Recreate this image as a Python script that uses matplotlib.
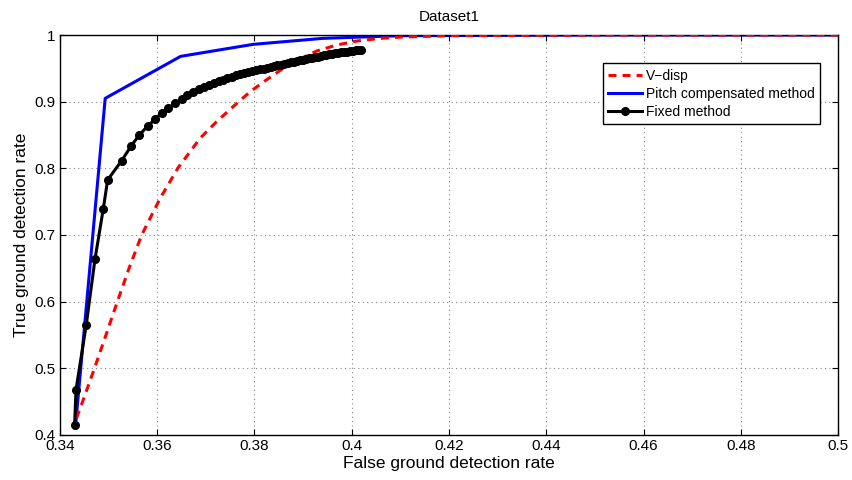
import numpy as np
import matplotlib
matplotlib.use("Agg")
import matplotlib.pyplot as plt

plt.rcParams['font.family'] = ['Liberation Sans', 'DejaVu Sans']

# V-disp curve (red dashed)
vdisp_x = [0.3434, 0.3448, 0.3471, 0.3496, 0.3518, 0.3542, 0.3568, 0.3606, 0.3643,
           0.3688, 0.3722, 0.3756, 0.3791, 0.3825, 0.3859, 0.3893, 0.3928, 0.3969,
           0.4010, 0.4058, 0.4100, 0.4200, 0.4500, 0.5000]
vdisp_y = [0.425, 0.453, 0.500, 0.553, 0.600, 0.650, 0.700, 0.755, 0.801,
           0.845, 0.870, 0.8925, 0.915, 0.933, 0.950, 0.964, 0.976, 0.985,
           0.991, 0.995, 0.997, 0.999, 1.000, 1.000]

# Pitch compensated method (blue)
pitch_x = [0.3432, 0.3493, 0.3648, 0.3797, 0.3940, 0.4100, 0.4500, 0.5000]
pitch_y = [0.414, 0.905, 0.968, 0.986, 0.995, 0.999, 1.000, 1.000]

# Fixed method (black with markers)
fixed_x = [0.3430, 0.3433, 0.3454, 0.3472, 0.3489, 0.3498, 0.3527, 0.3546, 0.3563,
           0.3580, 0.3596, 0.3610, 0.3623, 0.3637, 0.3650, 0.3662,
           0.3674, 0.3685, 0.3696, 0.3706, 0.3716, 0.3726, 0.3735, 0.3744, 0.3753,
           0.3762, 0.3771, 0.3779, 0.3787, 0.3795, 0.3803, 0.3811, 0.3819, 0.3826,
           0.3833, 0.3840, 0.3847, 0.3854, 0.3861, 0.3868, 0.3875, 0.3882, 0.3888,
           0.3894, 0.3900, 0.3906, 0.3912, 0.3918, 0.3924, 0.3930, 0.3936, 0.3942,
           0.3948, 0.3954, 0.3960, 0.3966, 0.3972, 0.3978, 0.3984, 0.3990, 0.3996,
           0.4002, 0.4008, 0.4014, 0.4020]
fixed_y = [0.4143, 0.468, 0.565, 0.6637, 0.739, 0.7826, 0.8116, 0.8331, 0.850,
           0.8631, 0.874, 0.883, 0.8906, 0.8976, 0.904, 0.9095,
           0.9145, 0.9185, 0.9220, 0.9252, 0.9280, 0.9308, 0.9332, 0.9355, 0.9377,
           0.9398, 0.9417, 0.9433, 0.9448, 0.9461, 0.9474, 0.9485, 0.9496, 0.9508,
           0.9520, 0.9532, 0.9544, 0.9556, 0.9567, 0.9578, 0.9589, 0.9600, 0.9610,
           0.9620, 0.9630, 0.9640, 0.9650, 0.9659, 0.9668, 0.9677, 0.9686, 0.9694,
           0.9702, 0.9710, 0.9717, 0.9724, 0.9731, 0.9738, 0.9745, 0.9752, 0.9758,
           0.9764, 0.9770, 0.9776, 0.9782]

xticks = [0.34, 0.36, 0.38, 0.4, 0.42, 0.44, 0.46, 0.48, 0.5]
yticks = [0.4, 0.5, 0.6, 0.7, 0.8, 0.9, 1.0]

fig = plt.figure(figsize=(8.52, 4.8), dpi=100)
ax = fig.add_axes([0.0704, 0.094, 0.9132, 0.833])

ax.plot(vdisp_x, vdisp_y, color='red', linestyle='--', linewidth=2.2, dashes=(2.6, 2.0),
        label='V\u2212disp', zorder=3)
ax.plot(pitch_x, pitch_y, color='blue', linewidth=2.2, label='Pitch compensated method', zorder=2)
ax.plot(fixed_x, fixed_y, color='black', linewidth=2.2, marker='o', markersize=5.5,
        label='Fixed method', zorder=4)

ax.set_xlim(0.34, 0.5)
ax.set_ylim(0.4, 1.0)
ax.set_xticks(xticks)
ax.set_xticklabels(['%g' % t for t in xticks])
ax.set_yticks(yticks)
ax.set_yticklabels(['%g' % t for t in yticks])
ax.tick_params(direction='in', labelsize=11, length=4, top=True, right=True, pad=3)
ax.grid(True, linestyle=(0, (1, 3)), color='#888888', linewidth=0.8)
for s in ax.spines.values():
    s.set_linewidth(1)

ax.set_xlabel('False ground detection rate', fontsize=12.5, labelpad=2)
ax.set_ylabel('True ground detection rate', fontsize=12.5, labelpad=4)
ax.set_title('Dataset1', fontsize=11, pad=10)

leg = ax.legend(loc='upper right', bbox_to_anchor=(0.977, 0.93), fontsize=10,
                frameon=True, fancybox=False, edgecolor='black', framealpha=1,
                handlelength=2.4, handletextpad=0.3, borderpad=0.4, labelspacing=0.3,
                borderaxespad=0)
leg.get_frame().set_linewidth(1)

fig.savefig('out.png', dpi=100)
